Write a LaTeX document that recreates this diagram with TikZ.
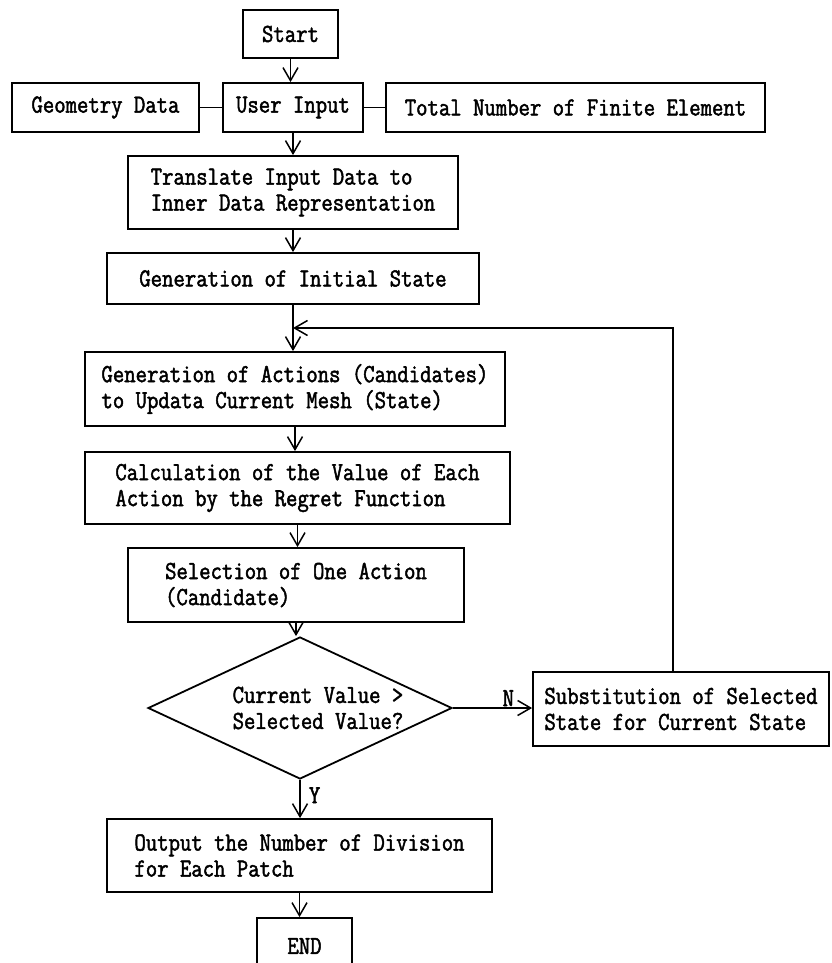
\documentclass[tikz,border=0pt]{standalone}
\usepackage{fontspec}
\setmonofont{Latin Modern Mono}[FakeStretch=0.85,FakeBold=1.8]
\usetikzlibrary{arrows.meta,shapes.geometric}
\begin{document}
\begin{tikzpicture}[x=1pt,y=-1pt,
  txt/.style={font=\fontsize{26}{26}\selectfont\ttfamily},
  box/.style={draw,line width=1.8pt,txt,align=left,inner sep=0pt},
  ln/.style={line width=1.8pt},
  arr/.style={line width=1.8pt,-{Straight Barb[length=13pt,width=15pt,line width=1.5pt]}}]
\fill[white] (0,0) rectangle (831,963);
\useasboundingbox (0,0) rectangle (831,963);
\node[box,minimum width=95pt,minimum height=48pt] (start) at (290.5,34) {Start};
\node[box,minimum width=140pt,minimum height=49pt] (user) at (293,107.5) {User Input};
\node[box,minimum width=187pt,minimum height=49pt] (geo) at (105.5,107.5) {Geometry Data};
\node[box,minimum width=379pt,minimum height=49pt] (total) at (575.5,107.5) {Total Number of Finite Element};
\node[box,minimum width=330pt,minimum height=73pt] (trans) at (293,192.5) {Translate Input Data to\\Inner Data Representation};
\node[box,minimum width=372pt,minimum height=51pt] (init) at (293,278.5) {Generation of Initial State};
\node[box,minimum width=420pt,minimum height=74pt] (act) at (295,389) {Generation of Actions (Candidates)\\to Updata Current Mesh (State)};
\node[box,minimum width=425pt,minimum height=72pt] (calc) at (297.5,488) {Calculation of the Value of Each\\Action by the Regret Function};
\node[box,minimum width=336pt,minimum height=74pt] (sel) at (296,585) {Selection of One Action\\(Candidate)};
\node[draw,line width=1.8pt,diamond,minimum width=304pt,minimum height=142pt,inner sep=0pt] (dia) at (300,708) {};
\node[txt,align=left,inner sep=0pt] (diatext) at (318,708) {Current Value >\\Selected Value?};
\node[box,minimum width=296pt,minimum height=74pt] (sub) at (681,709) {Substitution of Selected\\State for Current State};
\node[box,minimum width=385pt,minimum height=73pt] (out) at (299.5,855.5) {Output the Number of Division\\for Each Patch};
\node[box,minimum width=95pt,minimum height=56pt] (end) at (304.5,946) {END};
\draw[ln] (geo.east) -- (user.west);
\draw[ln] (user.east) -- (total.west);
\draw[arr] (start.south) -- (start.south |- user.north);
\draw[arr] (user.south) -- (user.south |- trans.north);
\draw[arr] (trans.south) -- (trans.south |- init.north);
\coordinate (loopy) at (0,328);
\coordinate (loopx) at (673,0);
\draw[arr] (init.south) -- (init.south |- act.north);
\draw[arr] (sub.north -| loopx) |- (init.south |- loopy);
\draw[arr] (act.south) -- (act.south |- calc.north);
\draw[arr] (calc.south) -- (calc.south |- sel.north);
\draw[arr] (sel.south) -- (sel.south |- dia.north);
\draw[arr] (dia.east) -- (sub.west |- dia.east) node[txt,pos=0.7,above,inner sep=1pt] (nlab) {N};
\draw[arr] (dia.south) -- (dia.south |- out.north) node[txt,pos=0.4,right,inner sep=8pt] (ylab) {Y};
\draw[arr] (out.south) -- (out.south |- end.north);
\end{tikzpicture}
\end{document}
